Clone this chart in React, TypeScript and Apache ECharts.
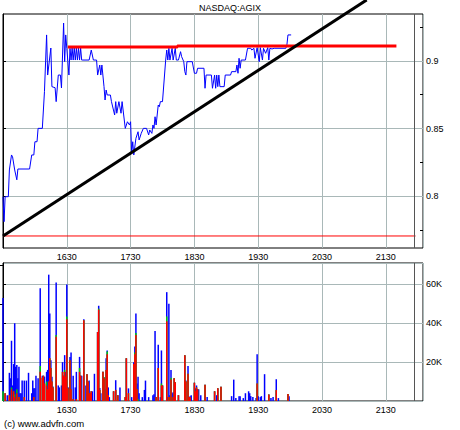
import React, { useEffect, useRef } from 'react';
import * as echarts from 'echarts';

// minutes since 15:30
const priceMinutes = [0, 1, 2, 5, 6, 8, 9, 11, 13, 14, 25, 27, 29, 30, 32, 33, 37, 39, 41, 42, 45, 46, 49, 50, 52, 54, 55, 57, 58, 59, 60, 62, 63, 64, 65, 66, 67, 68, 69, 70, 71, 72, 73, 74, 75, 81, 83, 85, 88, 89, 91, 92, 93, 95, 96, 97, 98, 101, 102, 105, 106, 107, 109, 111, 112, 115, 117, 119, 120, 121, 122, 123, 125, 127, 128, 130, 132, 135, 137, 138, 140, 141, 142, 143, 144, 146, 147, 148, 150, 153, 154, 155, 156, 157, 159, 160, 162, 163, 165, 167, 168, 170, 171, 172, 173, 178, 180, 182, 183, 189, 190, 191, 196, 197, 199, 200, 201, 202, 203, 204, 208, 209, 214, 215, 219, 220, 221, 222, 223, 224, 228, 230, 233, 234, 236, 237, 239, 241, 242, 244, 245, 247, 249, 250, 251, 253, 255, 266, 267, 268, 271];
const priceValues = [0.7995, 0.781, 0.7995, 0.7995, 0.8193, 0.8304, 0.829, 0.8193, 0.812, 0.82, 0.82, 0.8304, 0.8304, 0.8402, 0.8402, 0.8501, 0.8501, 0.8773, 0.9193, 0.8896, 0.9096, 0.881, 0.8802, 0.8699, 0.8896, 0.8896, 0.88, 0.9281, 0.8995, 0.9193, 0.9094, 0.8896, 0.9094, 0.9007, 0.9096, 0.9007, 0.9096, 0.9007, 0.9096, 0.9007, 0.9096, 0.9007, 0.9096, 0.9007, 0.9007, 0.9007, 0.9081, 0.9007, 0.9007, 0.8896, 0.897, 0.8896, 0.897, 0.881, 0.8711, 0.8785, 0.8748, 0.8748, 0.8699, 0.86, 0.8699, 0.8613, 0.8699, 0.8613, 0.8699, 0.8501, 0.855, 0.8526, 0.855, 0.8316, 0.8402, 0.8304, 0.8427, 0.8476, 0.8415, 0.8464, 0.8501, 0.8501, 0.8452, 0.8489, 0.8464, 0.8526, 0.8501, 0.8587, 0.8526, 0.8674, 0.8661, 0.8699, 0.8699, 0.9007, 0.9081, 0.9007, 0.9094, 0.9007, 0.9094, 0.9007, 0.9094, 0.9007, 0.9007, 0.9069, 0.9032, 0.8995, 0.8921, 0.8896, 0.8995, 0.8995, 0.8909, 0.8909, 0.8946, 0.8946, 0.8798, 0.8896, 0.8896, 0.8798, 0.8896, 0.8798, 0.8896, 0.881, 0.8896, 0.881, 0.881, 0.8896, 0.8896, 0.8921, 0.8921, 0.897, 0.8909, 0.902, 0.8946, 0.9007, 0.9007, 0.9094, 0.9094, 0.9081, 0.9094, 0.902, 0.9099, 0.8995, 0.9099, 0.9007, 0.9094, 0.9057, 0.9099, 0.9007, 0.9094, 0.9089, 0.9094, 0.9094, 0.9119, 0.9193, 0.9193];

const resistanceMinutes = [61, 164, 164, 370];
const resistanceValues = [0.9104, 0.9104, 0.9111, 0.9111];
const trendMinutes = [0, 342];
const trendValues = [0.7704, 0.9452];
const supportMinutes = [0, 388];
const supportValues = [0.7704, 0.7704];
const sessionEnd = 387;

// volume in thousands
const volMinutes = [0, 2, 4, 6, 7, 8, 9, 10, 11, 12, 13, 14, 15, 16, 17, 18, 20, 22, 24, 27, 28, 29, 30, 31, 33, 35, 37, 38, 39, 41, 42, 43, 44, 45, 46, 47, 50, 52, 53, 55, 56, 57, 58, 59, 60, 61, 62, 63, 64, 66, 68, 69, 72, 73, 74, 76, 78, 79, 80, 81, 82, 83, 84, 86, 89, 90, 91, 92, 94, 95, 96, 97, 98, 99, 100, 104, 106, 108, 110, 115, 116, 118, 121, 123, 124, 125, 126, 127, 128, 131, 133, 134, 137, 141, 142, 143, 144, 146, 148, 149, 150, 154, 155, 156, 157, 158, 159, 160, 161, 162, 165, 171, 172, 174, 175, 176, 177, 180, 181, 182, 183, 184, 186, 190, 192, 199, 201, 202, 205, 215, 217, 219, 222, 223, 226, 228, 231, 232, 233, 235, 238, 239, 240, 242, 243, 246, 250, 252, 254, 257, 259, 268, 269];
const volRed = [0, 4, 0, 3, 0, 6, 0, 5, 2, 0, 4, 0, 2, 0, 0, 0, 2, 0, 0, 0, 0, 2, 0, 0, 0, 15, 12, 13, 9, 8, 6, 10, 22, 17, 10, 7, 33, 0, 0, 0, 15, 13, 15, 12.5, 42, 6.5, 0, 21, 6, 1, 0, 1, 15, 13, 0, 41.5, 0, 13.7, 10, 4, 4, 5, 0, 0, 35.5, 47, 5.7, 0, 15, 11.7, 0, 16, 24, 3, 0, 5, 5.7, 3, 0, 2, 22, 4, 0, 19, 24, 34, 6, 0, 0, 0, 0, 0, 0, 0, 0, 0, 2, 17, 0, 8, 8, 41, 0, 2, 0, 11, 0, 2, 11.7, 9.6, 3, 23.6, 10, 14, 2, 2, 0, 9.4, 5, 7, 6, 0, 0, 8.3, 0, 5, 0, 6.5, 7.3, 0, 0, 0, 0, 0, 0, 0, 0, 0, 0, 0, 0, 9, 0, 0, 0, 0, 3.4, 0, 0, 5.6, 0, 3.6, 0];
const volGreen = [5, 0, 0, 0, 0, 1, 0, 0, 1.5, 0, 2, 0, 0, 0, 0, 0, 0, 0, 0, 0, 0, 0, 0, 0, 0, 3, 0, 0, 0, 2, 0, 0, 0, 0, 0, 0, 1, 0, 0, 0, 0, 0, 1, 0, 1.5, 0, 0, 0, 0, 0, 0, 0, 2, 0, 0, 0, 0, 0, 0, 0, 0, 0, 0, 0, 0, 0.5, 0, 0, 0, 0.5, 0, 0, 1.5, 0, 0, 0, 0, 0, 0, 0, 0, 0, 0, 0, 1, 1, 0, 1, 0, 0, 0, 0, 0, 0, 0, 0, 0, 0, 0, 1, 0, 2.5, 0, 0, 0, 1, 0, 0, 0, 0, 0, 0, 0, 0, 0, 0, 0, 0, 0, 0, 0, 0, 0, 0, 0, 0, 0, 0, 0, 0, 0, 0, 0, 0, 0, 0, 0, 0, 0, 0, 0, 0, 0, 0, 0, 0, 0, 0, 0, 0, 0, 0, 0];
const volBlue = [48, 0, 3, 11.5, 11.7, 24, 8, 14, 36.5, 17.6, 12.5, 11.7, 15.6, 4, 4, 10.5, 8.5, 10.5, 14.5, 4, 10.5, 4.5, 6.5, 13, 11.7, 40, 1, 0, 3.5, 5, 10, 55, 23, 4, 2.5, 0.5, 27, 8, 7, 8, 5, 0, 7.6, 2.5, 16.5, 0.5, 7, 1.7, 19, 12, 7, 14, 5.7, 0, 13, 0.5, 8, 0, 0, 6.5, 0, 0, 5, 14, 0, 1.5, 1, 4, 0, 0, 6, 6, 0.5, 4, 2, 0, 5, 0, 7, 0, 0, 2.5, 2, 1, 3, 10, 3, 11.5, 4, 2, 5.7, 10.5, 2, 3, 3.5, 36, 0, 12, 2, 17, 0, 12.5, 2, 48, 3, 4, 4, 2.5, 0, 0, 0, 0, 0.5, 4, 0, 0.5, 3, 0, 1.5, 1, 0, 6, 3, 0, 2, 0, 3, 0, 0, 2.5, 11, 1.5, 2.5, 2.5, 1.5, 4, 5, 4, 2.5, 2, 1.5, 15, 2.5, 2, 2.5, 13.8, 0, 1.5, 2, 5.6, 1.5, 0, 2.5];

const priceLabelTicks = [0.8, 0.85, 0.9];
const priceMinorTicks = [0.775, 0.825, 0.875, 0.925];
const volumeMinorTicks = [10, 30, 50, 70];

const FONT = 'Liberation Sans, Arial, sans-serif';
const GRID_COLOR = '#a9b8b8';

const timeLabel = (v: number) => {
  const t = 930 + v;
  const h = Math.floor(t / 60);
  const mm = t % 60;
  return `${h}${String(mm).padStart(2, '0')}`;
};

const zip = (a: number[], b: number[]) => a.map((x, i) => [x, b[i]]);

export default function App() {
  const ref = useRef<HTMLDivElement>(null);
  useEffect(() => {
    if (!ref.current) return;
    const chart = echarts.init(ref.current, undefined, { renderer: 'svg' });
    // stacked tops: red at bottom, green above, blue on top
    const volRedGreen = volRed.map((r, i) => r + volGreen[i]);
    const volTotal = volRedGreen.map((rg, i) => rg + volBlue[i]);
    const xBase = { type: 'value', min: 0, max: 395, interval: 60, axisLine: { show: false }, axisTick: { show: false } };
    const volMarkLine = { silent: true, symbol: ['none', 'none'], label: { show: false }, lineStyle: { color: '#555', type: 'solid', width: 1 }, data: [{ xAxis: sessionEnd }] };
    const option: any = {
      animation: false,
      backgroundColor: '#fff',
      textStyle: { fontFamily: FONT },
      title: {
        text: 'NASDAQ:AGIX', left: 'center', top: 3, padding: 0,
        textStyle: { fontSize: 9, fontWeight: 'normal', color: '#000', fontFamily: FONT },
      },
      graphic: [
        { type: 'text', left: 4, top: 418, style: { text: '(c) www.advfn.com', fontSize: 9.5, fill: '#000', fontFamily: FONT } },
      ],
      grid: [
        { left: 3, right: 37, top: 14, height: 234, show: true, borderColor: '#000', borderWidth: 1, backgroundColor: '#fff' },
        { left: 3, right: 37, top: 263, height: 138, show: true, borderColor: '#000', borderWidth: 1, backgroundColor: '#fff' },
      ],
      xAxis: [
        { ...xBase, gridIndex: 0, axisLabel: { show: false }, splitLine: { show: true, lineStyle: { color: GRID_COLOR } } },
        {
          ...xBase, gridIndex: 1, position: 'top',
          axisLabel: { show: true, formatter: timeLabel, showMinLabel: false, showMaxLabel: false, fontSize: 9, color: '#000', margin: 2, fontFamily: FONT },
          splitLine: { show: true, lineStyle: { color: GRID_COLOR } },
        },
        {
          ...xBase, gridIndex: 1, position: 'bottom',
          axisLabel: { show: true, formatter: timeLabel, showMinLabel: false, showMaxLabel: false, fontSize: 9, color: '#000', margin: 4, fontFamily: FONT },
          splitLine: { show: false },
        },
      ],
      yAxis: [
        {
          type: 'value', gridIndex: 0, position: 'right', min: 0.7615, max: 0.9348,
          axisLine: { show: true, lineStyle: { color: '#000' } },
          axisTick: { show: true, customValues: priceLabelTicks, length: 3, lineStyle: { color: '#000' } },
          axisLabel: { customValues: priceLabelTicks, fontSize: 9, color: '#000', margin: 3, fontFamily: FONT },
          splitLine: { show: true, lineStyle: { color: GRID_COLOR } },
        },
        {
          type: 'value', gridIndex: 0, position: 'right', min: 0.7615, max: 0.9348,
          axisLine: { show: false },
          axisTick: { show: true, customValues: priceMinorTicks, inside: true, length: 3, lineStyle: { color: '#000' } },
          axisLabel: { show: false },
          splitLine: { show: false },
        },
        {
          type: 'value', gridIndex: 1, position: 'right', min: 0, max: 71, interval: 20,
          axisLine: { show: true, lineStyle: { color: '#000' } },
          axisTick: { show: true, length: 3, lineStyle: { color: '#000' } },
          axisLabel: { formatter: (v: number) => `${v}K`, showMinLabel: false, showMaxLabel: false, fontSize: 9, color: '#000', margin: 3, fontFamily: FONT },
          splitLine: { show: true, lineStyle: { color: GRID_COLOR } },
        },
        {
          type: 'value', gridIndex: 1, position: 'right', min: 0, max: 71,
          axisLine: { show: false },
          axisTick: { show: true, customValues: volumeMinorTicks, inside: true, length: 3, lineStyle: { color: '#000' } },
          axisLabel: { show: false },
          splitLine: { show: false },
        },
      ],
      series: [
        {
          type: 'line', xAxisIndex: 0, yAxisIndex: 0, data: zip(supportMinutes, supportValues),
          symbol: 'none', lineStyle: { color: '#ff0000', width: 1 },
          markLine: volMarkLine,
        },
        {
          type: 'line', xAxisIndex: 0, yAxisIndex: 0, data: zip(priceMinutes, priceValues),
          symbol: 'none', lineStyle: { color: '#0000ff', width: 1 },
        },
        {
          type: 'line', xAxisIndex: 0, yAxisIndex: 0, data: zip(resistanceMinutes, resistanceValues),
          symbol: 'none', lineStyle: { color: '#ff0000', width: 3 },
        },
        {
          type: 'line', xAxisIndex: 0, yAxisIndex: 0, data: zip(trendMinutes, trendValues),
          symbol: 'none', clip: false, lineStyle: { color: '#000', width: 3 },
        },
        {
          type: 'bar', xAxisIndex: 1, yAxisIndex: 2, barWidth: 1.5, barGap: '-100%',
          data: zip(volMinutes, volTotal), itemStyle: { color: '#0000ff' },
          markLine: volMarkLine,
        },
        {
          type: 'bar', xAxisIndex: 1, yAxisIndex: 2, barWidth: 1.5, barGap: '-100%',
          data: zip(volMinutes, volRedGreen), itemStyle: { color: '#00cc00' },
        },
        {
          type: 'bar', xAxisIndex: 1, yAxisIndex: 2, barWidth: 1.5, barGap: '-100%',
          data: zip(volMinutes, volRed), itemStyle: { color: '#ff0000' },
        },
      ],
    };
    chart.setOption(option);
    return () => chart.dispose();
  }, []);
  return <div ref={ref} style={{ position: 'absolute', left: 0, top: 0, width: 460, height: 430 }} />;
}
